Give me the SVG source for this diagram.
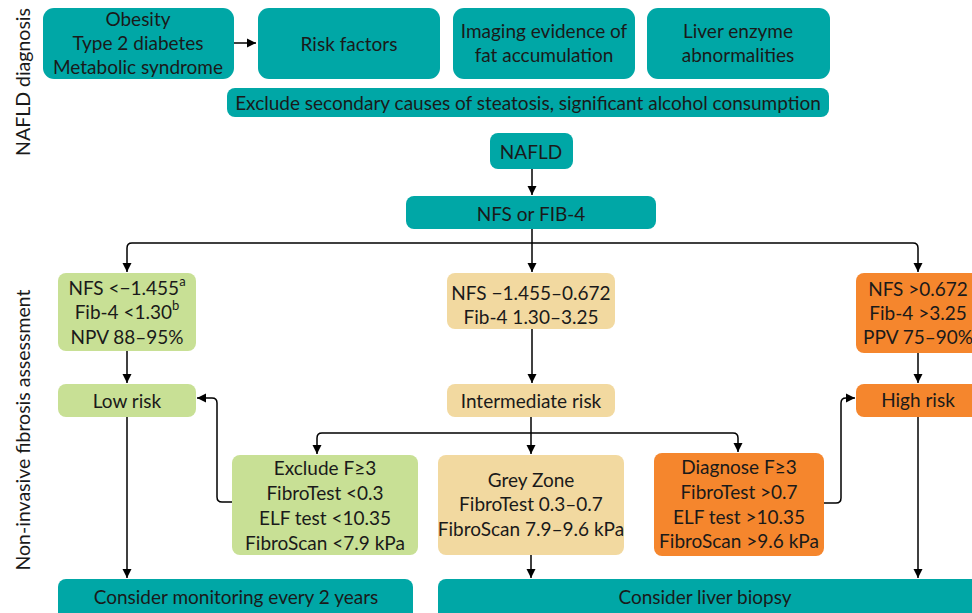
<svg xmlns="http://www.w3.org/2000/svg" width="972" height="613" viewBox="0 0 972 613">
<defs>
<marker id="arr" markerUnits="userSpaceOnUse" markerWidth="10" markerHeight="10" refX="9" refY="5" orient="auto">
<path d="M0,0.5 L9,5 L0,9.5 z" fill="#000"/>
</marker>
<style>
text{font-family:Lato,"Open Sans","Liberation Sans",sans-serif;font-size:19px;fill:#1a1a1a;text-anchor:middle;dominant-baseline:central}
.v{font-size:19.5px}
.teal{fill:#00a7a6}
.green{fill:#c8e095}
.tan{fill:#f2d9a0}
.orange{fill:#f5862d}
.c{fill:none;stroke:#000;stroke-width:1.5;marker-end:url(#arr)}
.sup{font-size:13px}
</style>
</defs>
<rect width="972" height="613" fill="#fff"/>
<text class="v" transform="translate(22,82) rotate(-90)">NAFLD diagnosis</text>
<text class="v" transform="translate(22,430) rotate(-90)">Non-invasive fibrosis assessment</text>

<g id="n-obesity"><rect class="teal" x="43" y="8" width="191" height="71" rx="11"/>
<text x="138" y="18">Obesity</text><text x="138" y="42">Type 2 diabetes</text><text x="138" y="66">Metabolic syndrome</text></g>
<g id="n-risk"><rect class="teal" x="258" y="8" width="182" height="71" rx="11"/><text x="349" y="43">Risk factors</text></g>
<g id="n-imaging"><rect class="teal" x="453" y="8" width="182" height="71" rx="11"/><text x="544" y="30">Imaging evidence of</text><text x="544" y="54">fat accumulation</text></g>
<g id="n-liver"><rect class="teal" x="647" y="8" width="183" height="71" rx="11"/><text x="738" y="30">Liver enzyme</text><text x="738" y="54">abnormalities</text></g>
<g id="n-exclude"><rect class="teal" x="227" y="88" width="602" height="29" rx="8"/><text x="528" y="102">Exclude secondary causes of steatosis, significant alcohol consumption</text></g>
<g id="n-nafld"><rect class="teal" x="490" y="133" width="83" height="36" rx="8"/><text x="531" y="151">NAFLD</text></g>
<g id="n-nfsfib"><rect class="teal" x="406" y="196" width="250" height="33" rx="8"/><text x="531" y="213">NFS or FIB-4</text></g>

<g id="n-low-scores"><rect class="green" x="58" y="273" width="138" height="78" rx="8"/>
<text x="127" y="287">NFS &lt;−1.455<tspan class="sup" dy="-6">a</tspan></text>
<text x="127" y="311">Fib-4 &lt;1.30<tspan class="sup" dy="-6">b</tspan></text>
<text x="127" y="336">NPV 88–95%</text></g>
<g id="n-mid-scores"><rect class="tan" x="447" y="273" width="168" height="56" rx="8"/>
<text x="531" y="292">NFS −1.455–0.672</text><text x="531" y="316">Fib-4 1.30–3.25</text></g>
<g id="n-high-scores"><rect class="orange" x="856" y="273" width="130" height="80" rx="8"/>
<text x="918" y="288">NFS &gt;0.672</text><text x="918" y="312">Fib-4 &gt;3.25</text><text x="918" y="336">PPV 75–90%</text></g>

<g id="n-lowrisk"><rect class="green" x="58" y="384" width="138" height="33" rx="8"/><text x="127" y="400">Low risk</text></g>
<g id="n-intrisk"><rect class="tan" x="447" y="384" width="168" height="33" rx="8"/><text x="531" y="400">Intermediate risk</text></g>
<g id="n-highrisk"><rect class="orange" x="856" y="384" width="130" height="33" rx="8"/><text x="918" y="399">High risk</text></g>

<g id="n-excludeF3"><rect class="green" x="232" y="455" width="186" height="100" rx="8"/>
<text x="325" y="467">Exclude F≥3</text><text x="325" y="492">FibroTest &lt;0.3</text><text x="325" y="517">ELF test &lt;10.35</text><text x="325" y="542">FibroScan &lt;7.9 kPa</text></g>
<g id="n-grey"><rect class="tan" x="438" y="455" width="186" height="100" rx="8"/>
<text x="531" y="479">Grey Zone</text><text x="531" y="503">FibroTest 0.3–0.7</text><text x="531" y="528">FibroScan 7.9–9.6 kPa</text></g>
<g id="n-diagnose"><rect class="orange" x="654" y="453" width="170" height="103" rx="8"/>
<text x="739" y="466">Diagnose F≥3</text><text x="739" y="491">FibroTest &gt;0.7</text><text x="739" y="516">ELF test &gt;10.35</text><text x="739" y="540">FibroScan &gt;9.6 kPa</text></g>

<g id="n-monitor"><rect class="teal" x="58" y="579" width="355" height="45" rx="8"/><text x="236" y="596">Consider monitoring every 2 years</text></g>
<g id="n-biopsy"><rect class="teal" x="438" y="579" width="545" height="45" rx="8"/><text x="705" y="596">Consider liver biopsy</text></g>

<g id="connectors">
<path class="c" d="M234,43 H256"/>
<path class="c" d="M532,169 V195"/>
<path class="c" d="M532,229 V272"/>
<path class="c" d="M532,243 H132 Q127,243 127,248 V272"/>
<path class="c" d="M532,243 H913 Q918,243 918,248 V272"/>
<path class="c" d="M127,351 V383"/>
<path class="c" d="M532,329 V383"/>
<path class="c" d="M918,353 V383"/>
<path class="c" d="M531,417 V454"/>
<path class="c" d="M531,433 H322 Q317,433 317,438 V454"/>
<path class="c" d="M531,433 H733 Q738,433 738,438 V452"/>
<path class="c" d="M232,502 H222 Q217,502 217,497 V403 Q217,398 212,398 H197"/>
<path class="c" d="M824,503 H836 Q841,503 841,498 V403 Q841,398 846,398 H855"/>
<path class="c" d="M127,417 V578"/>
<path class="c" d="M531,555 V578"/>
<path class="c" d="M918,417 V578"/>
</g>
</svg>
